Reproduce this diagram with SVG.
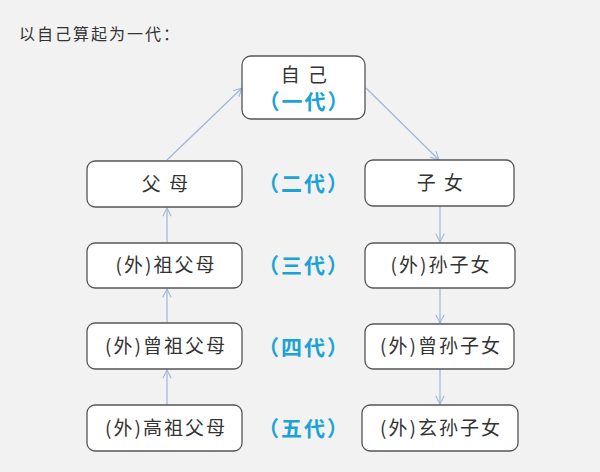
<svg xmlns="http://www.w3.org/2000/svg" width="600" height="472" viewBox="0 0 600 472">
<style>
.box{fill:#fff;stroke:#555;stroke-width:1.3}
.t{font-family:"Noto Sans CJK SC","Noto Sans",sans-serif;font-size:19px;fill:#333;text-anchor:middle;letter-spacing:2px}
.g{font-family:"Noto Sans CJK SC","Noto Sans",sans-serif;font-size:21px;font-weight:bold;fill:#1BA3D6;text-anchor:middle;letter-spacing:2px}
.c{stroke:#9BB8DA;stroke-width:1.2;fill:none;marker-end:url(#ah)}
</style>
<defs>
<marker id="ah" viewBox="0 0 12 12" refX="11" refY="6" markerWidth="10" markerHeight="10" markerUnits="userSpaceOnUse" orient="auto">
<path d="M1,1 L11,6 L1,11" fill="none" stroke="#9BB8DA" stroke-width="1.3"/>
</marker>
</defs>
<rect width="600" height="472" fill="#F2F2F2"/>
<text x="19" y="40" style="font-family:'Noto Sans CJK SC',sans-serif;font-size:16px;fill:#333;letter-spacing:2px">以自己算起为一代：</text>
<g id="connectors">
<line class="c" x1="167" y1="160" x2="242" y2="88"/>
<line class="c" x1="366" y1="88" x2="439" y2="160"/>
<line class="c" x1="167" y1="243" x2="167" y2="208"/>
<line class="c" x1="167" y1="323" x2="167" y2="289"/>
<line class="c" x1="167" y1="405" x2="167" y2="370"/>
<line class="c" x1="440" y1="206" x2="440" y2="242"/>
<line class="c" x1="440" y1="288" x2="440" y2="323"/>
<line class="c" x1="440" y1="369" x2="440" y2="404"/>
</g>
<g id="self"><rect class="box" x="242" y="56" width="123" height="63" rx="9"/>
<text class="t" x="305" y="82">自 己</text>
<text class="g" x="304.5" y="109">（一代）</text></g>
<g id="parents"><rect class="box" x="87" y="161" width="155" height="46" rx="8"/><text class="t" x="166" y="191">父 母</text></g>
<g id="children"><rect class="box" x="365" y="160" width="149" height="46" rx="8"/><text class="t" x="441" y="190">子 女</text></g>
<g id="gen2"><text class="g" x="304" y="191">（二代）</text></g>
<g id="grandparents"><rect class="box" x="87" y="243" width="155" height="45" rx="8"/><text class="t" x="166" y="272">(外)祖父母</text></g>
<g id="grandchildren"><rect class="box" x="365" y="243" width="150" height="45" rx="8"/><text class="t" x="441" y="272">(外)孙子女</text></g>
<g id="gen3"><text class="g" x="304" y="273">（三代）</text></g>
<g id="greatgrandparents"><rect class="box" x="87" y="323" width="155" height="46" rx="8"/><text class="t" x="166" y="353">(外)曾祖父母</text></g>
<g id="greatgrandchildren"><rect class="box" x="365" y="324" width="149" height="45" rx="8"/><text class="t" x="441" y="353">(外)曾孙子女</text></g>
<g id="gen4"><text class="g" x="304" y="355">（四代）</text></g>
<g id="gggrandparents"><rect class="box" x="87" y="405" width="155" height="46" rx="8"/><text class="t" x="166" y="435">(外)高祖父母</text></g>
<g id="gggrandchildren"><rect class="box" x="362" y="405" width="156" height="46" rx="8"/><text class="t" x="441" y="435">(外)玄孙子女</text></g>
<g id="gen5"><text class="g" x="304" y="436">（五代）</text></g>
</svg>
